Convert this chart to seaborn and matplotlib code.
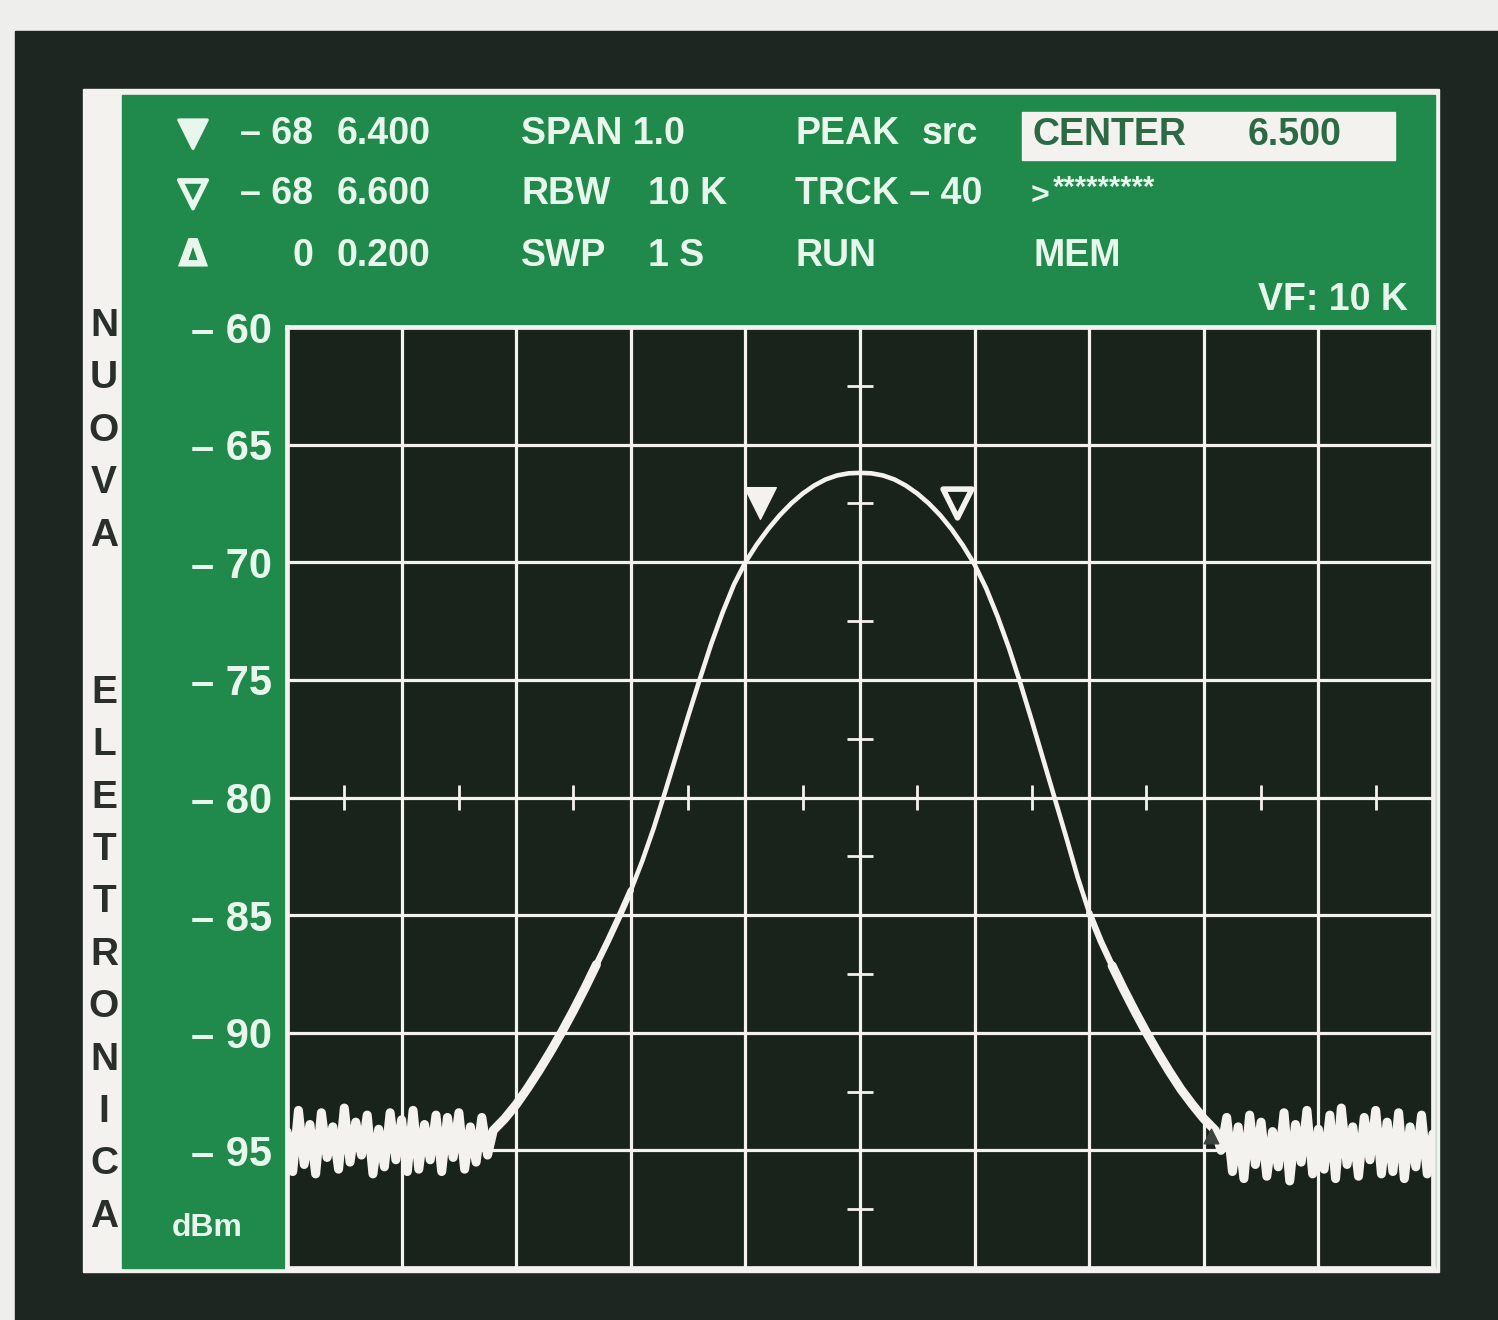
import numpy as np
import pandas as pd
import matplotlib
matplotlib.use("Agg")
import matplotlib.pyplot as plt
import matplotlib.patheffects as pe
from matplotlib.patches import Rectangle
import seaborn as sns

W, H = 1498, 1320

# ---- data (MHz / dBm) ----
left_floor_mhz = np.round(np.arange(6.000, 6.1751, 0.005), 3)
left_floor_db = [-94.2, -95.9, -93.3, -95.6, -93.9, -96.0, -93.4, -95.3, -94.0, -95.8,
                 -93.2, -95.5, -93.8, -95.2, -93.5, -96.0, -94.1, -95.7, -93.4, -95.4,
                 -93.7, -95.9, -93.3, -95.8, -93.9, -95.4, -93.5, -95.9, -93.6, -95.3,
                 -93.4, -95.8, -94.0, -95.5, -93.6, -95.2]

trace_mhz = np.round(np.arange(6.18, 6.8101, 0.01), 2)
trace_db = [-94.15, -93.65, -93.05, -92.35, -91.60, -90.80, -89.95, -89.05, -88.10, -87.10,
            -86.10, -85.05, -83.95, -82.70, -81.30, -79.75, -78.15, -76.55, -75.00, -73.50,
            -72.15, -70.95, -70.00, -69.24, -68.58, -68.00, -67.50, -67.08, -66.74, -66.48,
            -66.31, -66.22, -66.20, -66.22, -66.31, -66.48, -66.74, -67.08, -67.50, -68.00,
            -68.60, -69.30, -70.10, -71.10, -72.30, -73.65, -75.15, -76.75, -78.40, -80.05,
            -81.70, -83.40, -84.90, -86.10, -87.15, -88.15, -89.10, -90.00, -90.85, -91.65,
            -92.40, -93.05, -93.65, -94.15]

right_floor_mhz = np.round(np.arange(6.815, 7.0001, 0.005), 3)
right_floor_db = [-95.0, -93.6, -95.9, -94.0, -96.2, -93.5, -95.6, -93.8, -96.1, -94.2,
                  -95.7, -93.4, -96.3, -93.9, -95.5, -93.3, -96.0, -94.1, -95.8, -93.5,
                  -96.2, -93.2, -95.6, -94.0, -96.1, -93.6, -95.4, -93.3, -96.0, -93.8,
                  -95.9, -93.4, -96.2, -94.0, -95.7, -93.5, -96.0, -94.3]

marker_mhz = [6.413, 6.585]
marker_db = [-67.5, -67.5]

y_levels = [-95, -90, -85, -80, -75, -70, -65, -60]
y_labels = ["– 95", "– 90", "– 85", "– 80", "– 75", "– 70", "– 65", "– 60"]
x_grid = np.round(np.arange(6.1, 6.95, 0.1), 1)

side_letters = list("NUOVA") + [""] * 2 + list("ELETTRONICA")

header_rows = [
    ("▼", "– 68", "6.400", "SPAN 1.0", "", "PEAK", "src", "", ""),
    ("▽", "– 68", "6.600", "RBW", "10 K", "TRCK – 40", "", ">", "*********"),
    ("Δ", "0", "0.200", "SWP", "1 S", "RUN", "", "MEM", ""),
]

df = pd.DataFrame({
    "freq": np.concatenate([left_floor_mhz, trace_mhz, right_floor_mhz]),
    "level": left_floor_db + trace_db + right_floor_db,
})

# ---- colours ----
paper = "#eeeeec"
frame_dark = "#1d2621"
screen_bg = "#19231c"
panel_green = "#1f8a4b"
ink = "#e9f6ec"
white = "#f4f2ee"

plt.rcParams["font.family"] = ["Liberation Sans", "DejaVu Sans"]
plt.rcParams["font.weight"] = "bold"

fig = plt.figure(figsize=(W / 100, H / 100), dpi=100, facecolor=paper)


def box(x0, y0, x1, y1, color):
    fig.patches.append(Rectangle((x0 / W, 1 - y1 / H), (x1 - x0) / W, (y1 - y0) / H,
                                 transform=fig.transFigure, color=color, zorder=-5))


def label(x, y, s, **kw):
    kw.setdefault("color", ink)
    kw.setdefault("fontsize", 27)
    kw.setdefault("va", "center")
    kw.setdefault("fontweight", "bold")
    fig.text(x / W, 1 - y / H, s, **kw)


box(15, 31, W, H, frame_dark)
box(83, 89, 1439, 1272, white)
box(122, 95, 1435, 1268, panel_green)
box(1022, 112, 1395, 160, white)

# plot area
ax = fig.add_axes([287 / W, 1 - 1268 / H, (1433 - 287) / W, (1268 - 327) / H])
ax.set_zorder(2)
ax.set_facecolor(screen_bg)

# trace: thin where the signal is strong, fuzzier/thicker near the noise floor
sns.lineplot(data=df, x="freq", y="level", sort=False, estimator=None,
             color=white, linewidth=3.3, ax=ax, zorder=3, solid_capstyle="round")
for cut, lw in [(-83.5, 4.6), (-87.0, 6.5)]:
    part = df[df["level"] < cut]
    for side in (part[part["freq"] < 6.5], part[part["freq"] > 6.5]):
        sns.lineplot(data=side, x="freq", y="level", sort=False, estimator=None,
                     color=white, linewidth=lw, ax=ax, zorder=3, solid_capstyle="round")

# markers
sns.scatterplot(x=marker_mhz[:1], y=marker_db[:1], marker="v", s=520, color=white,
                edgecolor=white, linewidth=1, ax=ax, zorder=4)
sns.scatterplot(x=marker_mhz[1:], y=marker_db[1:], marker="v", s=430, color=screen_bg,
                edgecolor=white, linewidth=4, ax=ax, zorder=4)
ax.scatter([6.806], [-94.4], marker="^", s=110, color="#3d433e", zorder=5)

ax.set_xlim(6.0, 7.0)
ax.set_ylim(-100, -60)
ax.set_xticks(x_grid)
ax.set_xticklabels([])
ax.set_yticks(y_levels)
ax.set_yticklabels(y_labels, color=ink, fontsize=30, fontweight="bold")
ax.tick_params(length=0, pad=11)
ax.grid(True, color=white, linewidth=2.3)
ax.set_axisbelow(True)
for sp in ax.spines.values():
    sp.set_color(white)
    sp.set_linewidth(3.4)
ax.set_xlabel("")
ax.set_ylabel("")

# small division ticks on the centre cross
ax.hlines(np.arange(-97.5, -60, 5), 6.489, 6.511, color=white, linewidth=2, zorder=1)
ax.vlines(np.arange(6.05, 7.0, 0.1), -80.55, -79.45, color=white, linewidth=2, zorder=1)

# header text
row_y = [134, 194, 256]
strokes = [2.2, 2.6, 0.8]
for yy, row, sw in zip(row_y, header_rows, strokes):
    tri, num, val, c2a, c2b, c3a, c3b, c4a, c4b = row
    label(193, yy, tri, ha="center", fontsize=27, family=["DejaVu Sans"],
          path_effects=[pe.withStroke(linewidth=sw, foreground=ink)])
    label(313, yy, num, ha="right")
    label(337, yy, val)
    label(521, yy, c2a)
    label(648, yy, c2b)
    label(795, yy, c3a)
    label(922, yy, c3b)
    if c4a == ">":
        label(1031, yy + 3, c4a, fontsize=23)
        label(1053, yy - 6, c4b, fontsize=21)
    else:
        label(1033, yy, c4a)

label(1033, 135, "CENTER", color="#2c6a46")
label(1248, 135, "6.500", color="#2c6a46")
label(1408, 300, "VF: 10 K", ha="right")
label(172, 1228, "dBm", fontsize=23)

# vertical masthead letters
for i, ch in enumerate(side_letters):
    label(104, 326 + i * 52.4, ch, ha="center", fontsize=28, color="#2a2f2b")

fig.savefig("out.png", dpi=100, facecolor=paper)
